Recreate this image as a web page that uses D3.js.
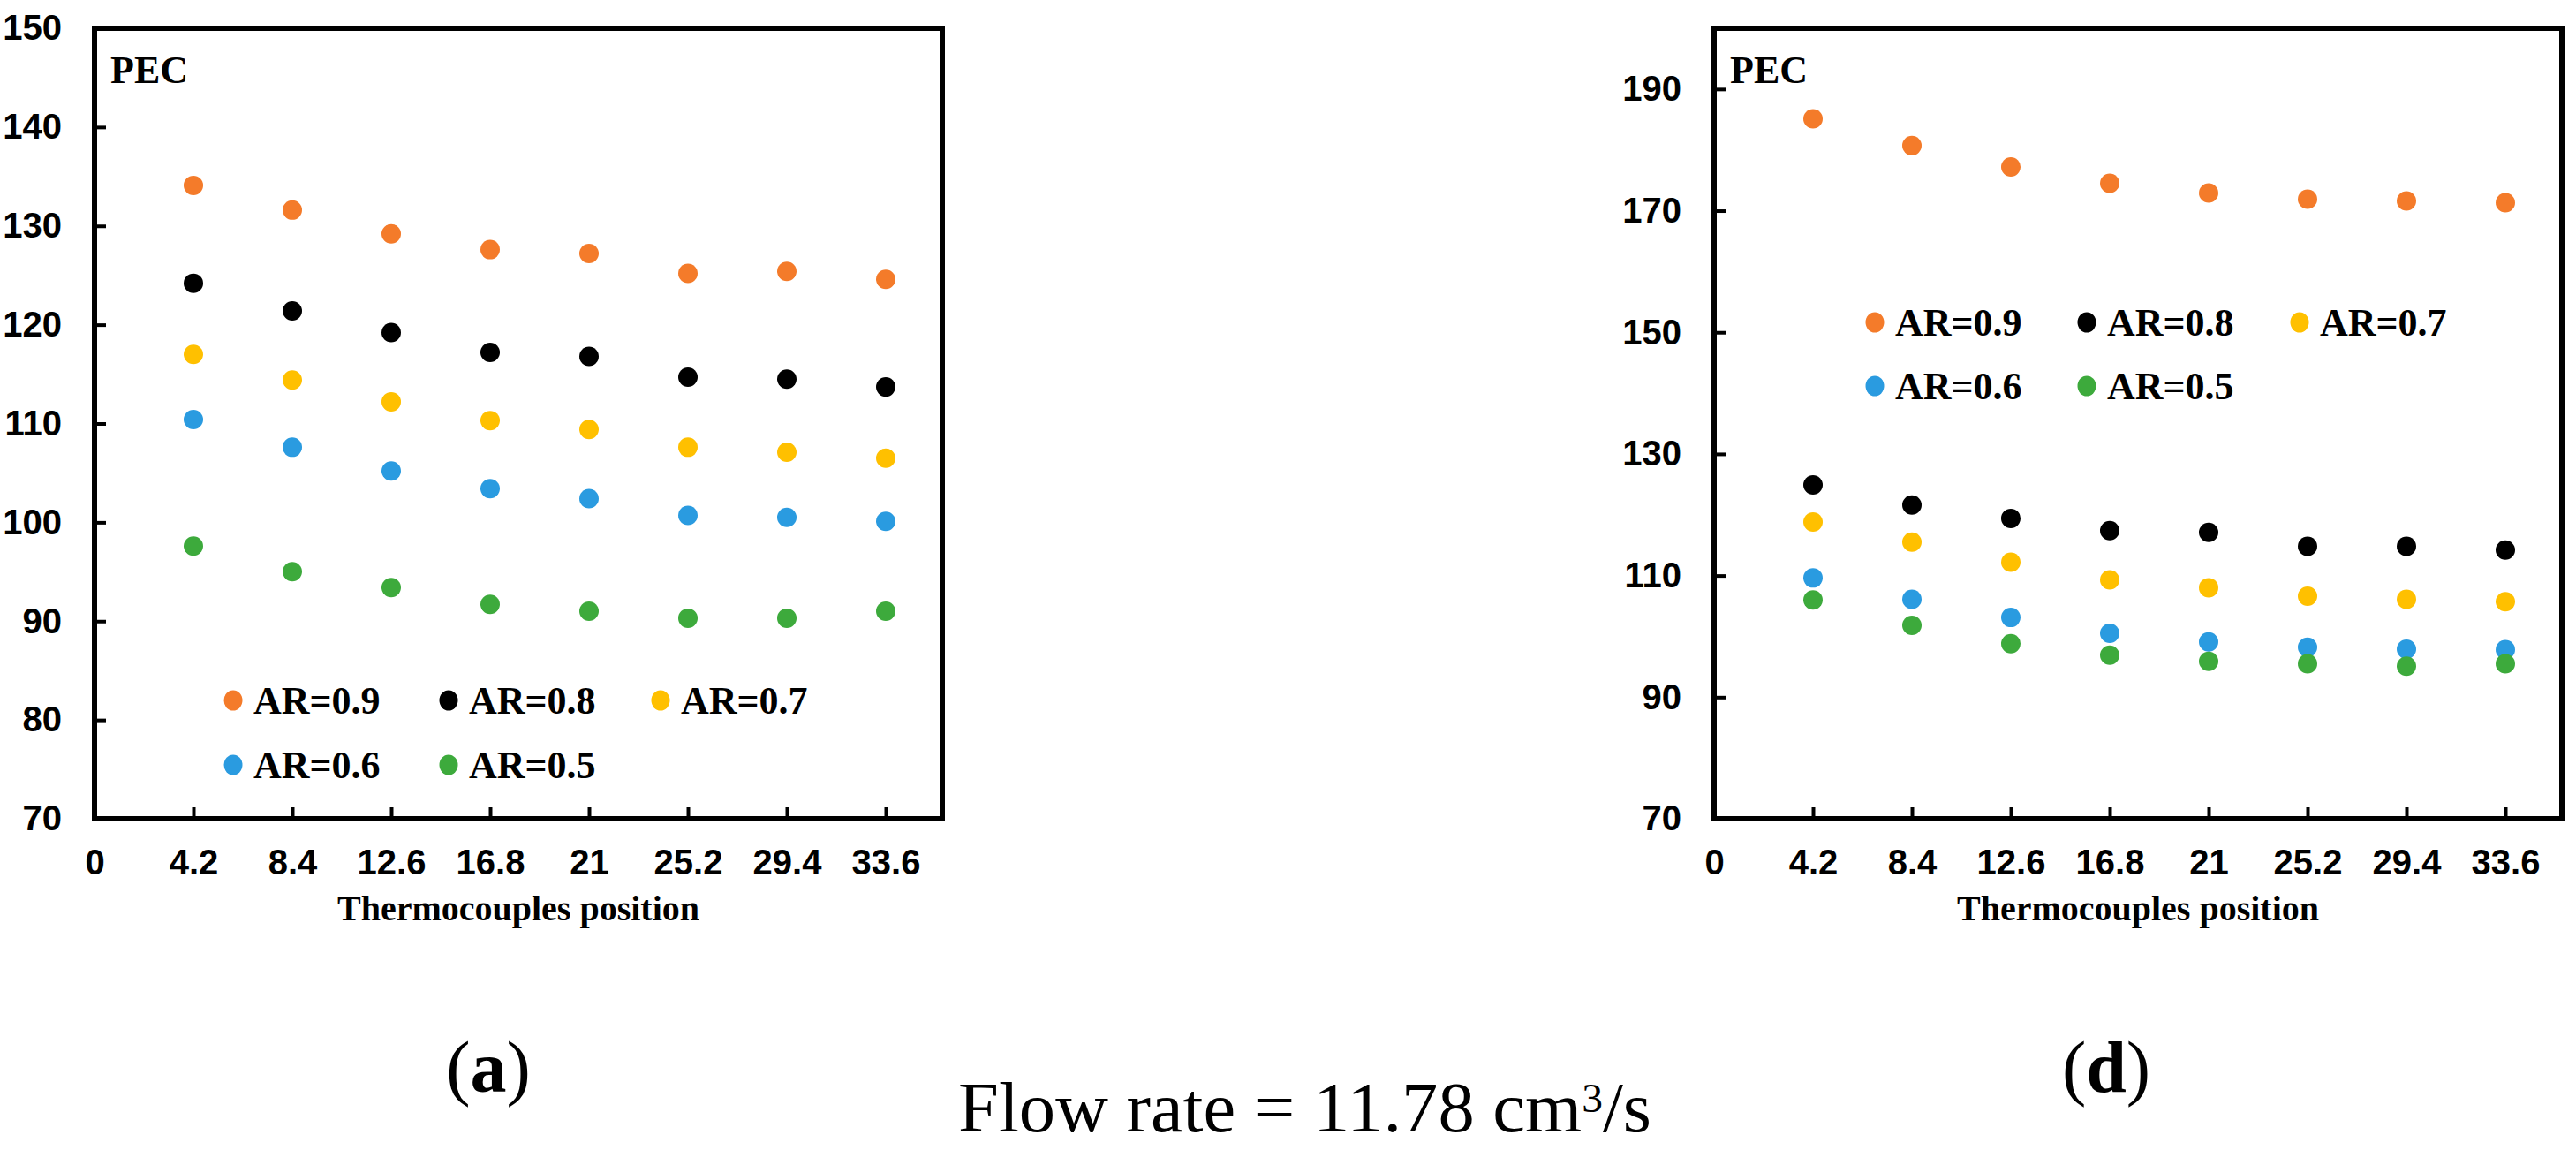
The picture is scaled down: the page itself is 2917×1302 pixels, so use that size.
<!DOCTYPE html>
<html>
<head>
<meta charset="utf-8">
<script src="https://cdn.jsdelivr.net/npm/d3@7"></script>
<style>
  body { margin: 0; background: #fff; }
  svg { display: block; font-family: "Liberation Serif", "Times New Roman", serif; }
  .tick text { font-weight: bold; font-size: 40px; fill: #000; }
  .tick line { stroke: #000; stroke-width: 4; }
  .frame { fill: none; stroke: #000; stroke-width: 6; }
</style>
</head>
<body>
<svg id="gfx" width="2917" height="1302"></svg>
<script>
// thermocouple positions (x) and tick labels
var positions = [4.2, 8.4, 12.6, 16.8, 21, 25.2, 29.4, 33.6];
var xTickValues = [0, 4.2, 8.4, 12.6, 16.8, 21, 25.2, 29.4, 33.6];
var xTickLabels = ["0", "4.2", "8.4", "12.6", "16.8", "21", "25.2", "29.4", "33.6"];

var seriesNames = ["AR=0.9", "AR=0.8", "AR=0.7", "AR=0.6", "AR=0.5"];
var seriesColors = ["#F47B2A", "#000000", "#FFC000", "#2A9BE0", "#3DAA3C"];

// panel (a)
var aTicks = [70, 80, 90, 100, 110, 120, 130, 140, 150];
var aAR09 = [134.1, 131.6, 129.2, 127.6, 127.2, 125.2, 125.4, 124.6];
var aAR08 = [124.2, 121.4, 119.2, 117.2, 116.8, 114.7, 114.5, 113.7];
var aAR07 = [117.0, 114.4, 112.2, 110.3, 109.4, 107.6, 107.1, 106.5];
var aAR06 = [110.4, 107.6, 105.2, 103.4, 102.4, 100.7, 100.5, 100.1];
var aAR05 = [97.6, 95.0, 93.4, 91.7, 91.0, 90.3, 90.3, 91.0];

// panel (d)
var dTicks = [70, 90, 110, 130, 150, 170, 190];
var dAR09 = [185.1, 180.7, 177.2, 174.5, 172.9, 171.9, 171.6, 171.3];
var dAR08 = [124.9, 121.6, 119.4, 117.4, 117.1, 114.8, 114.8, 114.2];
var dAR07 = [118.8, 115.5, 112.2, 109.3, 108.0, 106.6, 106.1, 105.7];
var dAR06 = [109.6, 106.1, 103.1, 100.5, 99.1, 98.2, 97.9, 97.8];
var dAR05 = [106.0, 101.8, 98.8, 96.9, 95.9, 95.5, 95.1, 95.5];

var svg = d3.select("#gfx");

function drawPanel(cfg) {
    var x = d3.scaleLinear().domain([0, 36]).range([cfg.left, cfg.right]);
    var y = d3.scaleLinear().domain(cfg.yDomain).range([cfg.bottom, cfg.top]);
    var g = svg.append("g");

    g.append("g")
        .attr("transform", "translate(0," + cfg.bottom + ")")
        .call(d3.axisBottom(x).tickValues(xTickValues)
            .tickFormat((d, i) => xTickLabels[i])
            .tickSize(-13).tickPadding(35))
        .call(a => a.select(".domain").remove());

    g.append("g")
        .attr("transform", "translate(" + cfg.left + ",0)")
        .call(d3.axisLeft(y).tickValues(cfg.yTicks).tickSize(-13).tickPadding(37))
        .call(a => a.select(".domain").remove());

    g.append("rect").attr("class", "frame")
        .attr("x", cfg.left).attr("y", cfg.top)
        .attr("width", cfg.right - cfg.left).attr("height", cfg.bottom - cfg.top);

    g.append("text")
        .attr("x", cfg.left + 18).attr("y", 94)
        .attr("font-size", 44).attr("font-weight", "bold")
        .text("PEC");

    g.append("text")
        .attr("x", (cfg.left + cfg.right) / 2).attr("y", 1042)
        .attr("text-anchor", "middle")
        .attr("font-size", 40).attr("font-weight", "bold")
        .text("Thermocouples position");

    cfg.series.forEach(function(vals, s) {
        g.append("g").selectAll("circle")
            .data(vals)
            .enter().append("circle")
            .attr("cx", (d, i) => x(positions[i]))
            .attr("cy", d => y(d))
            .attr("r", 11)
            .attr("fill", seriesColors[s]);
    });

    // legend: 3 items in first row, 2 in second
    var legend = g.append("g");
    seriesNames.forEach(function(name, s) {
        var lx = cfg.left + cfg.legendCols[s % 3];
        var ly = cfg.legendRows[Math.floor(s / 3)];
        legend.append("ellipse")
            .attr("cx", lx).attr("cy", ly).attr("rx", 10.5).attr("ry", 11.5)
            .attr("fill", seriesColors[s]);
        legend.append("text")
            .attr("x", lx + 23).attr("y", ly + 15)
            .attr("font-size", 44).attr("font-weight", "bold")
            .text(name);
    });

    var cap = svg.append("text")
        .attr("x", cfg.captionX).attr("y", 1236)
        .attr("text-anchor", "middle")
        .attr("font-size", 82);
    cap.append("tspan").text("(");
    cap.append("tspan").attr("font-weight", "bold").text(cfg.caption);
    cap.append("tspan").text(")");
}

drawPanel({
    left: 107, right: 1067, top: 32, bottom: 927,
    yDomain: [70, 150], yTicks: aTicks,
    series: [aAR09, aAR08, aAR07, aAR06, aAR05],
    legendCols: [157, 401, 641], legendRows: [793, 866],
    caption: "a", captionX: 553
});

drawPanel({
    left: 1941, right: 2901, top: 32, bottom: 927,
    yDomain: [70, 200], yTicks: dTicks,
    series: [dAR09, dAR08, dAR07, dAR06, dAR05],
    legendCols: [182, 422, 663], legendRows: [365, 437],
    caption: "d", captionX: 2385
});

var flow = svg.append("text")
    .attr("x", 1085).attr("y", 1281)
    .attr("font-size", 80)
    .attr("textLength", 785).attr("lengthAdjust", "spacingAndGlyphs");
flow.append("tspan").text("Flow rate = 11.78 cm");
flow.append("tspan").attr("font-size", 46).attr("dy", -22).text("3");
flow.append("tspan").attr("dy", 22).text("/s");
</script>
</body>
</html>
